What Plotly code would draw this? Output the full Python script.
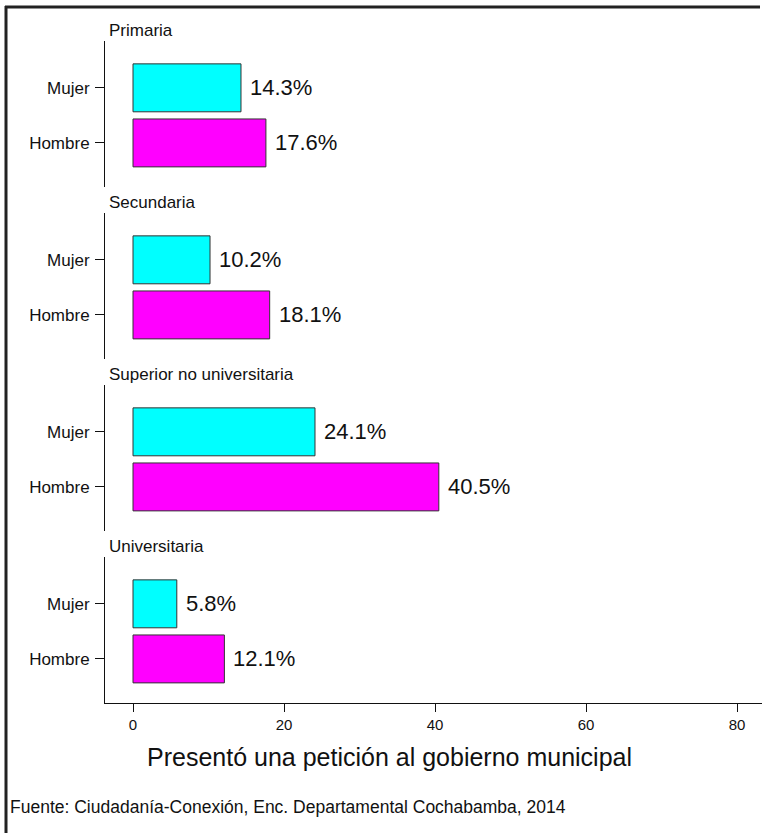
import plotly.graph_objects as go

niveles = ["Primaria", "Secundaria", "Superior no universitaria", "Universitaria"]
sexos = ["Mujer", "Hombre"]
mujer = [14.3, 10.2, 24.1, 5.8]
hombre = [17.6, 18.1, 40.5, 12.1]
x_ticks = [0, 20, 40, 60, 80]
x_title = "Presentó una petición al gobierno municipal"
fuente = "Fuente: Ciudadanía-Conexión, Enc. Departamental Cochabamba, 2014"

colors = ["#00FFFF", "#FF00FF"]
FONT = "Liberation Sans, Arial, sans-serif"
INK = "#111111"

W, H = 762, 833
ML, MR, MT, MB = 105, 0, 41, 130
ph = H - MT - MB
pw = W - ML - MR

# panel pixel extents (top, bottom)
panel_px = [(41, 187), (213, 359), (385, 531), (557, 703)]

def py(p):
    return (H - MB - p) / ph

def px(p):
    return (p - ML) / pw

fig = go.Figure()
layout = {}
annotations = []
for i, nivel in enumerate(niveles):
    k = i + 1
    xa = "x" if k == 1 else f"x{k}"
    ya = "y" if k == 1 else f"y{k}"
    vals = [mujer[i], hombre[i]]
    fig.add_trace(go.Bar(
        x=vals, y=sexos, orientation="h",
        marker=dict(color=colors, line=dict(color="#333333", width=1)),
        width=0.87, hoverinfo="skip",
        xaxis=xa, yaxis=ya, showlegend=False,
    ))
    for v, s in zip(vals, sexos):
        annotations.append(dict(
            text=f"{v:.1f}%", x=v, y=s, xref=xa, yref=ya,
            xanchor="left", yanchor="middle", xshift=7, showarrow=False,
            font=dict(family=FONT, size=22, color=INK),
        ))
    top, bot = panel_px[i]
    xkey = "xaxis" if k == 1 else f"xaxis{k}"
    ykey = "yaxis" if k == 1 else f"yaxis{k}"
    last = (k == len(niveles))
    layout[xkey] = dict(
        domain=[0, 1], range=[-3.71, 83.3], anchor=ya,
        tickvals=x_ticks if last else [], showticklabels=last,
        showline=last, linecolor=INK, linewidth=1,
        ticks="outside" if last else "", ticklen=8, tickcolor=INK,
        showgrid=False, zeroline=False, fixedrange=True,
        tickfont=dict(family=FONT, size=15, color=INK),
    )
    if k > 1:
        layout[xkey]["matches"] = "x"
    layout[ykey] = dict(
        domain=[py(bot), py(top)], anchor=xa,
        type="category", categoryorder="array", categoryarray=["Hombre", "Mujer"],
        range=[-0.8, 1.85],
        showline=True, linecolor=INK, linewidth=1,
        ticks="outside", ticklen=9, tickcolor=INK,
        ticklabelstandoff=2, fixedrange=True,
        showgrid=False, zeroline=False,
        tickfont=dict(family=FONT, size=17, color=INK),
    )
    annotations.append(dict(
        text=nivel, xref="paper", yref="paper", x=0, y=py(top),
        xanchor="left", yanchor="bottom", xshift=2, yshift=-1,
        showarrow=False, font=dict(family=FONT, size=17, color=INK),
    ))

annotations.append(dict(
    text=x_title, xref="paper", yref="paper", x=px(389), y=py(757),
    xanchor="center", yanchor="middle", showarrow=False,
    font=dict(family=FONT, size=25, color=INK),
))
annotations.append(dict(
    text=fuente, xref="paper", yref="paper", x=px(8), y=py(807),
    xanchor="left", yanchor="middle", showarrow=False,
    font=dict(family=FONT, size=17.5, color=INK),
))

shapes = [
    dict(type="line", xref="paper", yref="paper", x0=px(5), x1=px(W - 2), y0=py(7), y1=py(7),
         line=dict(color="#222222", width=3)),
    dict(type="line", xref="paper", yref="paper", x0=px(6), x1=px(6), y0=py(6), y1=py(H),
         line=dict(color="#222222", width=3)),
]

fig.update_layout(
    width=W, height=H,
    margin=dict(l=ML, r=MR, t=MT, b=MB, pad=0),
    paper_bgcolor="white", plot_bgcolor="white",
    font=dict(family=FONT, color=INK),
    annotations=annotations, shapes=shapes,
    bargap=0, hovermode=False, dragmode=False,
    **layout,
)
fig.write_html(
    "out.html",
    config={"displayModeBar": False, "staticPlot": True},
    post_script="document.body.style.margin='0';document.body.style.overflow='hidden';",
)
